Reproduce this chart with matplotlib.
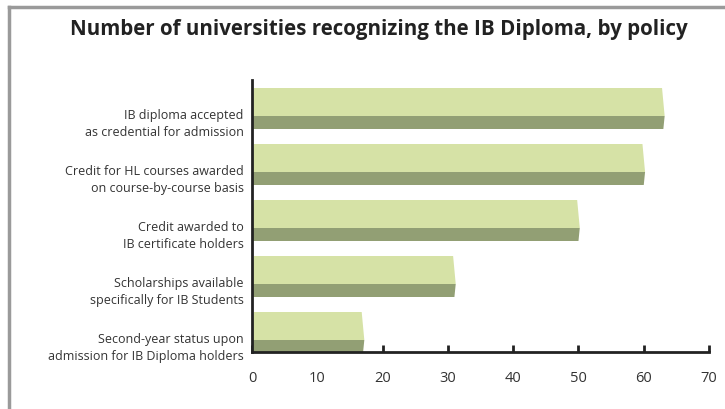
import matplotlib
matplotlib.use("Agg")
import matplotlib.pyplot as plt
from matplotlib.patches import Polygon
from matplotlib.lines import Line2D

categories = [
    "IB diploma accepted\nas credential for admission",
    "Credit for HL courses awarded\non course-by-course basis",
    "Credit awarded to\nIB certificate holders",
    "Scholarships available\nspecifically for IB Students",
    "Second-year status upon\nadmission for IB Diploma holders",
]
values = [63, 60, 50, 31, 17]
xticks = [0, 10, 20, 30, 40, 50, 60, 70]

light = "#d6e2a6"
dark = "#929f74"

plt.rcParams["font.family"] = ["Open Sans", "DejaVu Sans"]

fig = plt.figure(figsize=(7.25, 4.09), dpi=100)
ax = fig.add_axes([0.3476, 0.1394, 0.978 - 0.3476, 0.8044 - 0.1394])

top_h = 0.5
side_h = 0.232
for i, v in enumerate(values):
    y0 = i - 0.366          # top edge of bar
    ym = y0 + top_h         # edge between faces
    y1 = ym + side_h        # bottom edge
    ax.add_patch(Polygon([(0.3, y0), (v - 0.2, y0), (v + 0.2, ym), (-0.3, ym)],
                         closed=True, fc=light, ec="none", zorder=2))
    ax.add_patch(Polygon([(-0.3, ym), (v + 0.2, ym), (v, y1), (0, y1)],
                         closed=True, fc=dark, ec="none", zorder=2))

ax.set_xlim(0, 70)
ax.set_ylim(4.348, -0.509)
ax.set_xticks(xticks)
ax.set_xticklabels([str(t) for t in xticks], fontsize=10.5, color="#333333")
ax.set_yticks([i + 0.22 for i in range(len(categories))])
ax.set_yticklabels(categories, fontsize=9, color="#333333", linespacing=1.35)
ax.tick_params(axis="y", length=0, pad=6)
ax.tick_params(axis="x", direction="in", length=5, width=2, color="#222222", pad=14)

for s in ["top", "right"]:
    ax.spines[s].set_visible(False)
for s in ["left", "bottom"]:
    ax.spines[s].set_linewidth(2)
    ax.spines[s].set_color("#222222")
    ax.spines[s].set_zorder(3)

fig.text(379 / 725, 1 - 30 / 409, "Number of universities recognizing the IB Diploma, by policy",
         ha="center", va="center", fontsize=14.8, fontweight="bold", color="#222222")

# grey frame on left and top
fig.add_artist(Line2D([9 / 725, 9 / 725], [0, 1 - 7 / 409], transform=fig.transFigure,
                      color="#9a9a9a", lw=2.5))
fig.add_artist(Line2D([9 / 725, 1], [1 - 7 / 409, 1 - 7 / 409], transform=fig.transFigure,
                      color="#9a9a9a", lw=2.5))

fig.savefig("out.png", dpi=100)
